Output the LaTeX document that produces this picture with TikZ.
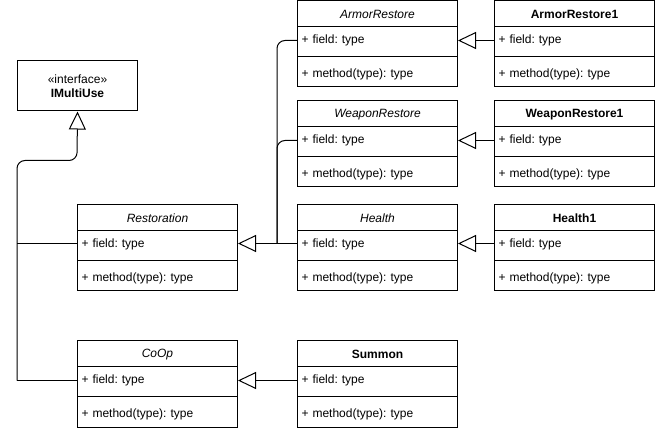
\documentclass[tikz,border=0pt]{standalone}
\usepackage{fontspec}
\setmainfont{Liberation Sans}
\frenchspacing
\usetikzlibrary{arrows.meta}
\tikzset{
  cls/.style={draw, line width=1pt, fill=white, anchor=north west, minimum width=160pt, minimum height=86pt, inner sep=0pt},
  hdr/.style={inner sep=0pt, font=\fontsize{12pt}{14pt}\selectfont},
  row/.style={inner xsep=4pt, inner ysep=0pt, text width=152pt, align=left, minimum height=26pt, font=\fontsize{12pt}{14pt}\selectfont},
  conn/.style={line width=1pt},
  inh/.style={line width=1pt, -{Triangle[open, length=18pt, width=17pt, fill=white]}},
}
\newcommand\umlclass[5]{%
  \node[cls] (#1) at (#2,#3) {};
  \node[hdr] (#1-h) at ([yshift=-14pt]#1.north) {#4#5};
  \node[row] (#1-f) at ([yshift=-40pt]#1.north) {+ field: type};
  \node[row] (#1-m) at ([yshift=-74pt]#1.north) {+ method(type): type};
  \draw[line width=1pt] ([yshift=-26pt]#1.north west) -- ([yshift=-26pt]#1.north east);
  \draw[line width=1pt] ([yshift=-56pt]#1.north west) -- ([yshift=-56pt]#1.north east);
}
\begin{document}
\begin{tikzpicture}[x=1pt, y=-1pt]
\useasboundingbox (0,-0.5) rectangle (656,429.5);
% interface
\node[draw, line width=1pt, fill=white, anchor=north west, minimum width=120pt, minimum height=50pt, inner sep=0pt, align=center, font=\fontsize{12pt}{14pt}\selectfont] (iface) at (17,60) {«interface»\\\textbf{IMultiUse}};
% classes
\umlclass{ar}{297}{0}{\itshape}{ArmorRestore}
\umlclass{ar1}{494}{0}{\bfseries}{ArmorRestore1}
\umlclass{wr}{297}{100}{\itshape}{WeaponRestore}
\umlclass{wr1}{494}{100}{\bfseries}{WeaponRestore1}
\umlclass{health}{297}{204}{\itshape}{Health}
\umlclass{h1}{494}{204}{\bfseries}{Health1}
\umlclass{res}{77}{204}{\itshape}{Restoration}
\umlclass{coop}{77}{340}{\itshape}{CoOp}
\umlclass{summon}{297}{340}{\bfseries}{Summon}
% helper coordinates
\coordinate (bend) at (77,160);
\coordinate (spine) at (277,243);
\coordinate (lcorner) at (17,380);
% connectors to interface
\draw[conn] (coop-f.west |- lcorner) -- (lcorner);
\draw[inh, rounded corners=8pt] (lcorner) -- (bend -| iface.west) -- (bend) -- (iface.south);
\draw[conn] (res.west |- spine) -- (spine -| iface.west);
% Restoration hierarchy
\draw[inh] (health.west |- spine) -- (res.east |- spine);
\draw[conn, rounded corners=8pt] (ar.west |- 0,40) -| (spine);
\draw[conn, rounded corners=8pt] (wr.west |- 0,140) -| (spine);
% right column
\draw[inh] (ar1.west |- 0,40) -- (ar.east |- 0,40);
\draw[inh] (wr1.west |- 0,140) -- (wr.east |- 0,140);
\draw[inh] (h1.west |- spine) -- (health.east |- spine);
\draw[inh] (summon.west |- lcorner) -- (coop.east |- lcorner);
\end{tikzpicture}
\end{document}
